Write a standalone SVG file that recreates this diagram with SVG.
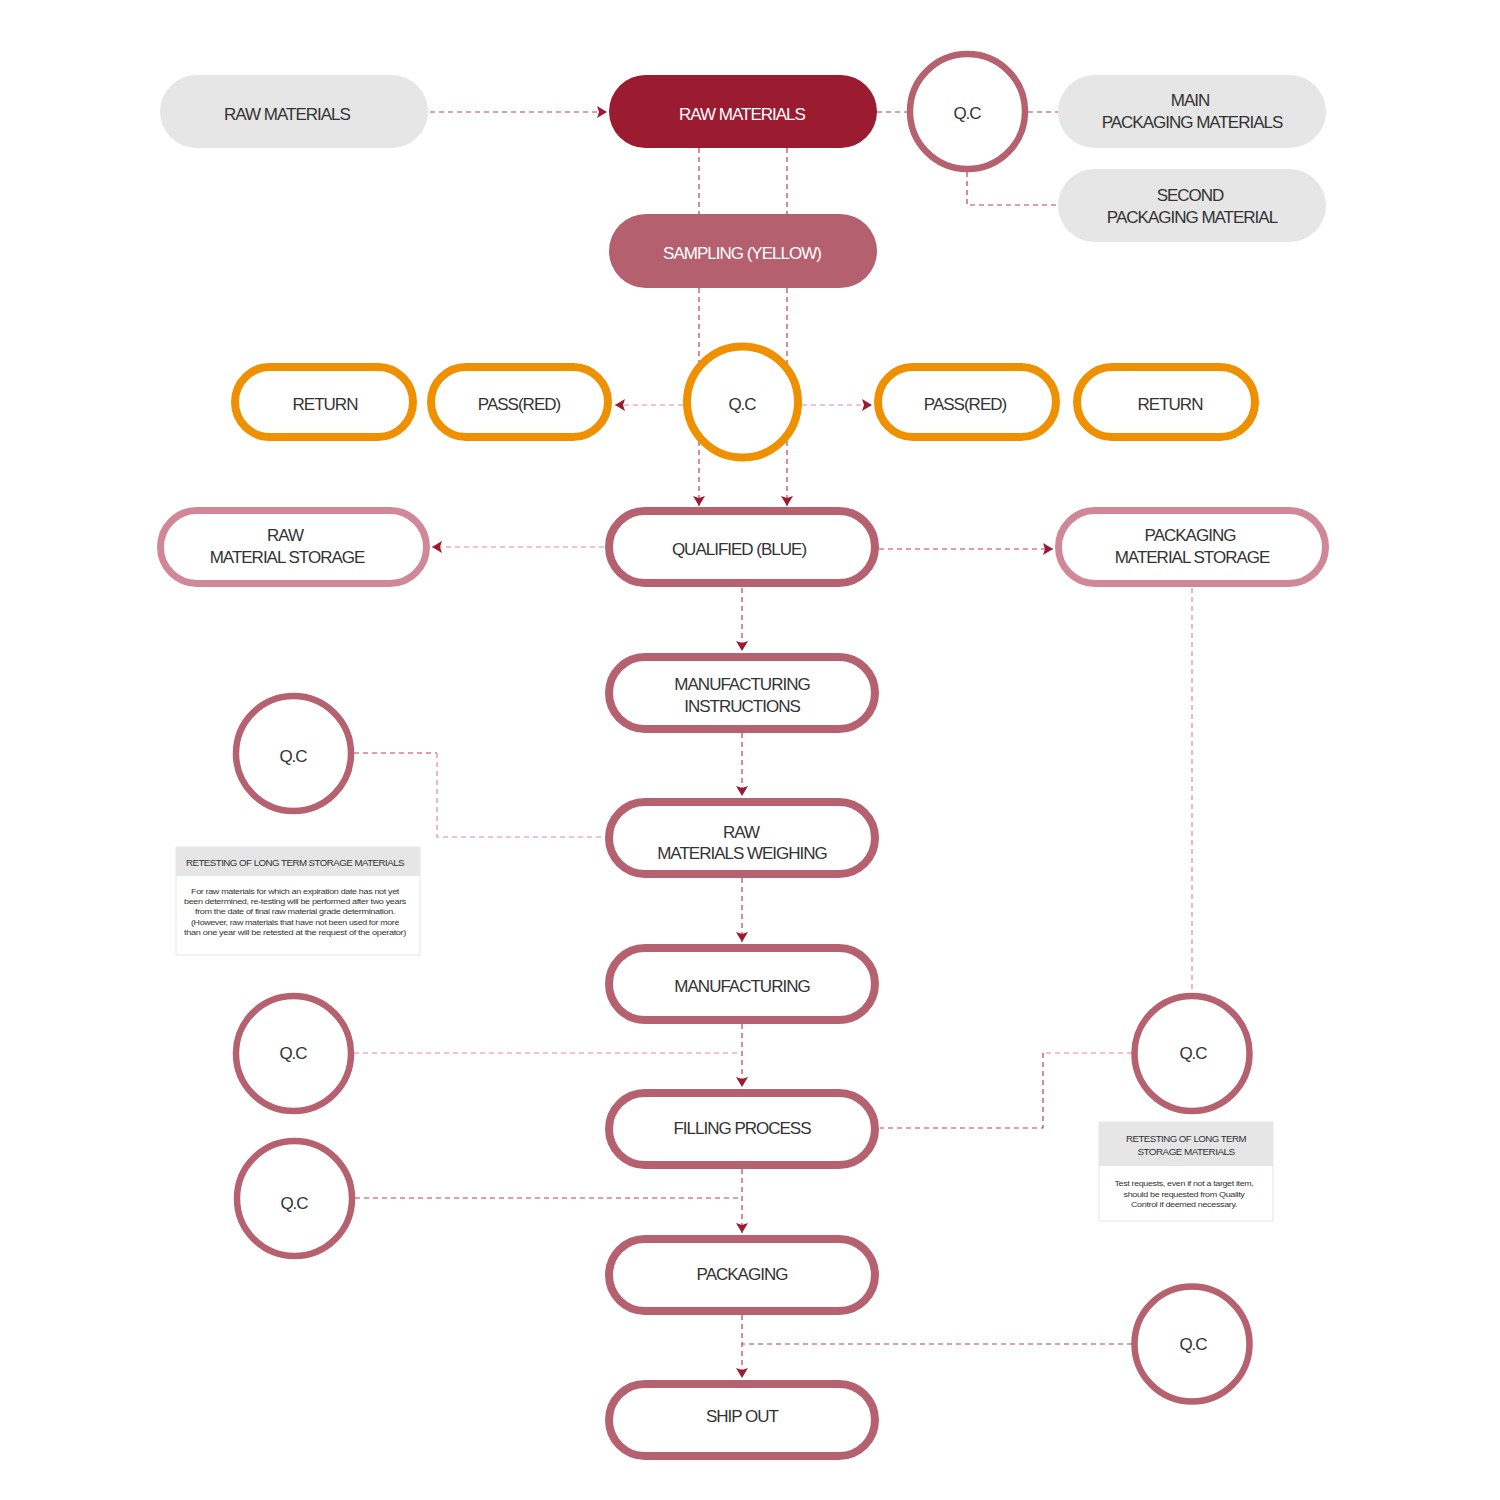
<svg xmlns="http://www.w3.org/2000/svg" width="1500" height="1500" viewBox="0 0 1500 1500">
<defs>
<style>
.t{font-family:"Liberation Sans",Arial,sans-serif;font-size:17px;fill:#333;text-anchor:middle;letter-spacing:-1px}
.tw{fill:#fff}
.grey{fill:#e6e6e6}
.red{fill:#9b1b30}
.pink{fill:#b5606f}
.out{fill:#fff;stroke:#b5616f;stroke-width:8}
.outl{fill:#fff;stroke:#d08898;stroke-width:7}
.org{fill:#fff;stroke:#ee9000;stroke-width:8}
.qc{fill:#fff;stroke:#b5616f;stroke-width:6.5}
.d{fill:none;stroke:#c0404f;stroke-width:1.2;stroke-dasharray:5 4}
.dl{fill:none;stroke:#e48a98;stroke-width:1.2;stroke-dasharray:5 4}
.nh{font-family:"Liberation Sans",Arial,sans-serif;font-size:9.5px;fill:#333;text-anchor:middle;letter-spacing:-0.5px}
.nb{font-family:"Liberation Sans",Arial,sans-serif;font-size:7.6px;fill:#333;text-anchor:middle;letter-spacing:-0.3px}
</style>
<marker id="ah" viewBox="0 0 10 12" refX="10" refY="6" markerWidth="10" markerHeight="13" markerUnits="userSpaceOnUse" orient="auto">
<path d="M0,0 L10,6 L0,12 L2,6 z" fill="#9b1b30"/>
</marker>
</defs>
<rect width="1500" height="1500" fill="#fff"/>

<g id="connectors">
<path class="d" d="M430,112 H607" marker-end="url(#ah)"/>
<path class="d" d="M877,112 H907"/>
<path class="d" d="M1028,112 H1058"/>
<path class="d" d="M967,172 V205 H1058"/>
<path class="d" d="M699,148 V214"/>
<path class="d" d="M787,148 V214"/>
<path class="d" d="M699,288 V506" marker-end="url(#ah)"/>
<path class="d" d="M787,288 V506" marker-end="url(#ah)"/>
<path class="dl" d="M683,405 H615" marker-end="url(#ah)"/>
<path class="dl" d="M802,405 H872" marker-end="url(#ah)"/>
<path class="dl" d="M604,547 H432" marker-end="url(#ah)"/>
<path class="d" d="M879,549 H1053" marker-end="url(#ah)"/>
<path class="dl" d="M1192,588 V993"/>
<path class="d" d="M742,588 V651" marker-end="url(#ah)"/>
<path class="d" d="M742,733 V796" marker-end="url(#ah)"/>
<path class="d" d="M742,878 V942" marker-end="url(#ah)"/>
<path class="d" d="M742,1024 V1087" marker-end="url(#ah)"/>
<path class="d" d="M742,1169 V1233" marker-end="url(#ah)"/>
<path class="d" d="M742,1315 V1378" marker-end="url(#ah)"/>
<path class="d" d="M354,753 H437"/>
<path class="dl" d="M437,753 V837 H604"/>
<path class="dl" d="M354,1053 H742"/>
<path class="d" d="M355,1198 H742"/>
<path class="dl" d="M1132,1053 H1043"/>
<path class="d" d="M1043,1053 V1128 H880"/>
<path class="d" d="M1132,1344 H742"/>
</g>

<g id="raw-materials-in"><rect class="grey" x="160" y="75" width="268" height="73" rx="36.5"/><text class="t" x="287" y="120">RAW MATERIALS</text></g>
<g id="raw-materials"><rect class="red" x="609" y="75" width="268" height="73" rx="36.5"/><text class="t tw" x="742" y="120">RAW MATERIALS</text></g>
<g id="qc-top"><circle class="qc" cx="967.5" cy="111.5" r="57.5"/><text class="t" x="967" y="119">Q.C</text></g>
<g id="main-packaging"><rect class="grey" x="1058" y="75" width="268" height="73" rx="36.5"/><text class="t" x="1190" y="106">MAIN</text><text class="t" x="1192" y="128">PACKAGING MATERIALS</text></g>
<g id="second-packaging"><rect class="grey" x="1058" y="169" width="268" height="73" rx="36.5"/><text class="t" x="1190" y="201">SECOND</text><text class="t" x="1192" y="223">PACKAGING MATERIAL</text></g>
<g id="sampling"><rect class="pink" x="609" y="214" width="268" height="74" rx="37"/><text class="t tw" x="742" y="259">SAMPLING (YELLOW)</text></g>

<g id="return-left"><rect class="org" x="235" y="367" width="178" height="70" rx="35"/><text class="t" x="325" y="410">RETURN</text></g>
<g id="pass-left"><rect class="org" x="431" y="367" width="177" height="70" rx="35"/><text class="t" x="519" y="410">PASS(RED)</text></g>
<g id="qc-orange"><circle class="org" cx="742.5" cy="402" r="55.5"/><text class="t" x="742" y="410">Q.C</text></g>
<g id="pass-right"><rect class="org" x="878" y="367" width="178" height="70" rx="35"/><text class="t" x="965" y="410">PASS(RED)</text></g>
<g id="return-right"><rect class="org" x="1077" y="367" width="178" height="70" rx="35"/><text class="t" x="1170" y="410">RETURN</text></g>

<g id="raw-storage"><rect class="outl" x="160.5" y="510.5" width="266" height="73" rx="36.5"/><text class="t" x="285" y="541">RAW</text><text class="t" x="287" y="563">MATERIAL STORAGE</text></g>
<g id="qualified"><rect class="out" x="609" y="511" width="266" height="72" rx="36"/><text class="t" x="739" y="555">QUALIFIED (BLUE)</text></g>
<g id="packaging-storage"><rect class="outl" x="1058.5" y="510.5" width="267" height="73" rx="36.5"/><text class="t" x="1190" y="541">PACKAGING</text><text class="t" x="1192" y="563">MATERIAL STORAGE</text></g>

<g id="mfg-instructions"><rect class="out" x="609" y="657" width="266" height="72" rx="36"/><text class="t" x="742" y="690">MANUFACTURING</text><text class="t" x="742" y="712">INSTRUCTIONS</text></g>
<g id="weighing"><rect class="out" x="609" y="802" width="266" height="72" rx="36"/><text class="t" x="741" y="838">RAW</text><text class="t" x="742" y="859">MATERIALS WEIGHING</text></g>
<g id="manufacturing"><rect class="out" x="609" y="948" width="266" height="72" rx="36"/><text class="t" x="742" y="992">MANUFACTURING</text></g>
<g id="filling"><rect class="out" x="609" y="1093" width="266" height="72" rx="36"/><text class="t" x="742" y="1134">FILLING PROCESS</text></g>
<g id="packaging"><rect class="out" x="609" y="1239" width="266" height="72" rx="36"/><text class="t" x="742" y="1280">PACKAGING</text></g>
<g id="ship-out"><rect class="out" x="609" y="1384" width="266" height="72" rx="36"/><text class="t" x="742" y="1422">SHIP OUT</text></g>

<g id="qc-left-1"><circle class="qc" cx="293.5" cy="753.5" r="57.5"/><text class="t" x="293" y="762">Q.C</text></g>
<g id="note-left"><rect x="176" y="847" width="244" height="108" fill="#fff" stroke="#e6e6e6" stroke-width="1"/><rect class="grey" x="176" y="847" width="244" height="29"/>
<text class="nh" x="295" y="866" textLength="218" lengthAdjust="spacingAndGlyphs">RETESTING OF LONG TERM STORAGE MATERIALS</text>
<text class="nb" x="295" y="894" textLength="208" lengthAdjust="spacingAndGlyphs">For raw materials for which an expiration date has not yet</text>
<text class="nb" x="295" y="904" textLength="222" lengthAdjust="spacingAndGlyphs">been determined, re-testing will be performed after two years</text>
<text class="nb" x="295" y="914" textLength="200" lengthAdjust="spacingAndGlyphs">from the date of final raw material grade determination.</text>
<text class="nb" x="295" y="925" textLength="208" lengthAdjust="spacingAndGlyphs">(However, raw materials that have not been used for more</text>
<text class="nb" x="295" y="935" textLength="222" lengthAdjust="spacingAndGlyphs">than one year will be retested at the request of the operator)</text>
</g>
<g id="qc-left-2"><circle class="qc" cx="293.5" cy="1053.5" r="57.5"/><text class="t" x="293" y="1059">Q.C</text></g>
<g id="qc-left-3"><circle class="qc" cx="294.5" cy="1198.5" r="57.5"/><text class="t" x="294" y="1209">Q.C</text></g>
<g id="qc-right-1"><circle class="qc" cx="1192" cy="1053.5" r="57.5"/><text class="t" x="1193" y="1059">Q.C</text></g>
<g id="note-right"><rect x="1099" y="1122" width="174" height="99" fill="#fff" stroke="#e6e6e6" stroke-width="1"/><rect class="grey" x="1099" y="1122" width="174" height="44"/>
<text class="nh" x="1186" y="1142" textLength="120" lengthAdjust="spacingAndGlyphs">RETESTING OF LONG TERM</text>
<text class="nh" x="1186" y="1155" textLength="97" lengthAdjust="spacingAndGlyphs">STORAGE MATERIALS</text>
<text class="nb" x="1184" y="1186" textLength="139" lengthAdjust="spacingAndGlyphs">Test requests, even if not a target item,</text>
<text class="nb" x="1184" y="1197" textLength="121" lengthAdjust="spacingAndGlyphs">should be requested from Quality</text>
<text class="nb" x="1184" y="1207" textLength="106" lengthAdjust="spacingAndGlyphs">Control if deemed necessary.</text>
</g>
<g id="qc-right-2"><circle class="qc" cx="1192" cy="1344" r="57.5"/><text class="t" x="1193" y="1350">Q.C</text></g>
</svg>
